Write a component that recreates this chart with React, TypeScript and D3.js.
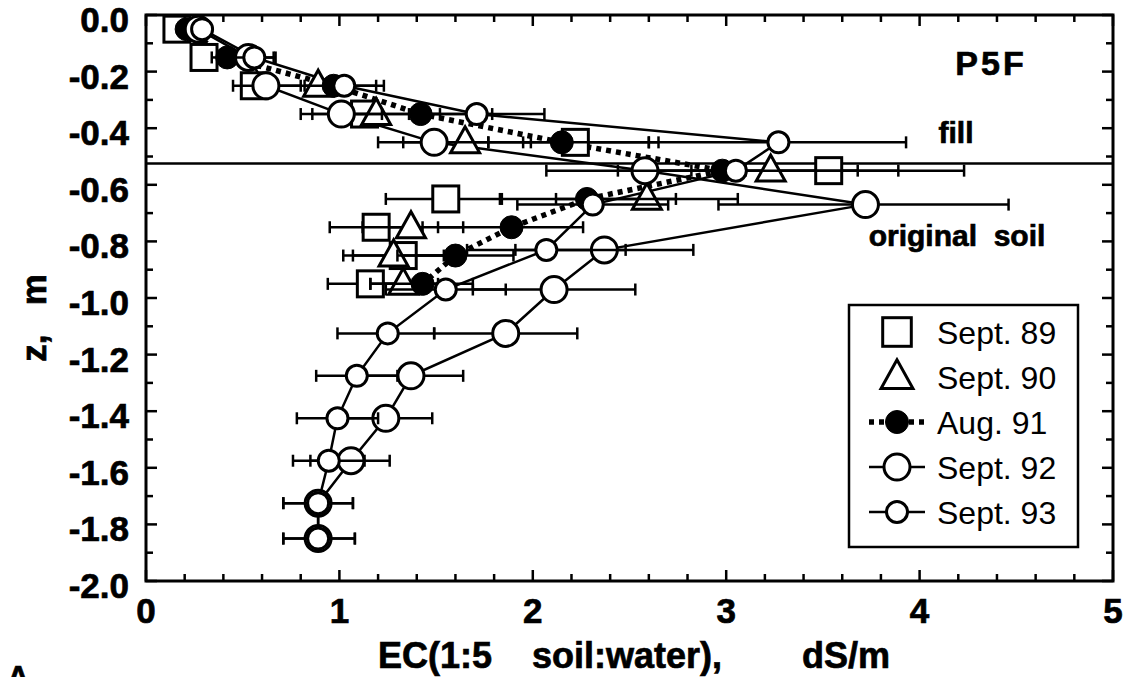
import React from "react";
import * as d3 from "d3";

// Each row: [depth z (m), EC (dS/m), error bar low, error bar high]
type Row = [number, number, number | null, number | null];

const sept89: Row[] = [
  [-0.05, 0.16, null, null],
  [-0.15, 0.3, null, null],
  [-0.25, 0.56, null, null],
  [-0.35, 1.13, null, null],
  [-0.45, 2.22, 1.95, 2.65],
  [-0.55, 3.53, 2.82, 4.23],
  [-0.65, 1.55, 1.24, 1.84],
  [-0.75, 1.19, 0.95, 1.43],
  [-0.85, 1.33, 1.07, 1.58],
  [-0.95, 1.16, 0.94, 1.38],
];

const sept90: Row[] = [
  [-0.25, 0.89, 0.59, 1.19],
  [-0.35, 1.19, 0.86, 1.52],
  [-0.45, 1.65, 1.33, 1.99],
  [-0.55, 3.23, 2.58, 3.89],
  [-0.65, 2.59, 2.12, 3.06],
  [-0.75, 1.37, 1.12, 1.64],
  [-0.85, 1.28, 1.02, 1.54],
  [-0.95, 1.33, 1.16, 1.51],
];

const aug91: Row[] = [
  [-0.05, 0.21, null, null],
  [-0.15, 0.42, 0.34, 0.5],
  [-0.25, 0.97, null, null],
  [-0.35, 1.42, 1.05, 1.79],
  [-0.45, 2.15, 1.77, 2.6],
  [-0.55, 2.98, null, null],
  [-0.65, 2.28, 1.83, 2.74],
  [-0.75, 1.89, 1.51, 2.26],
  [-0.85, 1.6, 1.3, 1.9],
  [-0.95, 1.43, 1.16, 1.69],
];

const sept92: Row[] = [
  [-0.05, 0.27, null, null],
  [-0.15, 0.53, 0.44, 0.66],
  [-0.25, 0.62, 0.45, 0.8],
  [-0.35, 1.01, 0.8, 1.22],
  [-0.45, 1.49, 1.2, 1.77],
  [-0.55, 2.58, 2.07, 3.1],
  [-0.67, 3.72, 2.96, 4.46],
  [-0.83, 2.37, 1.91, 2.83],
  [-0.97, 2.11, 1.69, 2.53],
  [-1.125, 1.86, 1.49, 2.23],
  [-1.275, 1.37, 1.1, 1.64],
  [-1.425, 1.24, 1.0, 1.48],
  [-1.575, 1.06, 0.85, 1.26],
  [-1.725, 0.89, 0.71, 1.07],
  [-1.85, 0.89, 0.71, 1.08],
];

const sept93: Row[] = [
  [-0.05, 0.29, null, null],
  [-0.15, 0.56, 0.43, 0.67],
  [-0.25, 1.025, 0.82, 1.23],
  [-0.35, 1.71, 1.36, 2.06],
  [-0.45, 3.27, 2.6, 3.93],
  [-0.55, 3.05, 2.44, 3.68],
  [-0.67, 2.31, 1.92, 2.7],
  [-0.83, 2.07, 1.66, 2.48],
  [-0.97, 1.55, 1.24, 1.86],
  [-1.125, 1.25, 0.99, 1.49],
  [-1.275, 1.09, 0.88, 1.3],
  [-1.425, 0.99, 0.78, 1.2],
  [-1.575, 0.945, 0.76, 1.13],
  [-1.725, 0.89, 0.71, 1.07],
  [-1.85, 0.89, 0.71, 1.08],
];

const xTickLabels = [0, 1, 2, 3, 4, 5];
const zTickLabels = [0, -0.2, -0.4, -0.6, -0.8, -1.0, -1.2, -1.4, -1.6, -1.8, -2.0];
const legendLabels = ["Sept. 89", "Sept. 90", "Aug. 91", "Sept. 92", "Sept. 93"];
const fillBoundary = -0.525;

const FONT = "'Liberation Sans', Arial, Helvetica, sans-serif";
const W = 1125;
const H = 677;
const P = { left: 146, right: 1113, top: 15, bottom: 581 };

type Marker = "square" | "triangle" | "dot" | "bigCircle" | "circle";

function MarkerShape({ kind, cx, cy, scale = 1 }: { kind: Marker; cx: number; cy: number; scale?: number }) {
  const sw = 3;
  if (kind === "square") {
    const s = 26 * scale;
    return <rect x={cx - s / 2} y={cy - s / 2} width={s} height={s} fill="#fff" stroke="#000" strokeWidth={sw} />;
  }
  if (kind === "triangle") {
    const b = 29 * scale;
    const h = 26 * scale;
    const pts = `${cx},${cy - h * 0.6} ${cx - b / 2},${cy + h * 0.4} ${cx + b / 2},${cy + h * 0.4}`;
    return <polygon points={pts} fill="#fff" stroke="#000" strokeWidth={sw} strokeLinejoin="miter" />;
  }
  if (kind === "dot") {
    return <circle cx={cx} cy={cy} r={11.5 * scale} fill="#000" stroke="#000" strokeWidth={1} />;
  }
  if (kind === "bigCircle") {
    return <circle cx={cx} cy={cy} r={13 * scale} fill="#fff" stroke="#000" strokeWidth={sw} />;
  }
  return <circle cx={cx} cy={cy} r={10.5 * scale} fill="#fff" stroke="#000" strokeWidth={sw} />;
}

export default function App() {
  const x = d3.scaleLinear().domain([0, 5]).range([P.left, P.right]);
  const y = d3.scaleLinear().domain([-2, 0]).range([P.bottom, P.top]);
  const line = d3
    .line<Row>()
    .x((d) => x(d[1]))
    .y((d) => y(d[0]));

  const xMinor = d3.range(0, 5.001, 0.2);
  const yMinor = d3.range(-2, 0.001, 0.1);

  const series: { rows: Row[]; marker: Marker }[] = [
    { rows: sept89, marker: "square" },
    { rows: sept90, marker: "triangle" },
    { rows: aug91, marker: "dot" },
    { rows: sept92, marker: "bigCircle" },
    { rows: sept93, marker: "circle" },
  ];

  const errorBars = (rows: Row[], key: string) =>
    rows
      .filter((r) => r[2] !== null && r[3] !== null)
      .map((r, i) => {
        const yy = y(r[0]);
        const x0 = x(r[2] as number);
        const x1 = x(r[3] as number);
        return (
          <g key={`${key}-e${i}`} stroke="#000" strokeWidth={2.5}>
            <line x1={x0} x2={x1} y1={yy} y2={yy} />
            <line x1={x0} x2={x0} y1={yy - 6} y2={yy + 6} />
            <line x1={x1} x2={x1} y1={yy - 6} y2={yy + 6} />
          </g>
        );
      });

  const legendX = 849;
  const legendY = 305;
  const legendW = 229;
  const legendH = 242;
  const legendMarkers: Marker[] = ["square", "triangle", "dot", "bigCircle", "circle"];
  const legendRowY = (i: number) => legendY + 27 + i * 45;
  const symX = legendX + 48;

  // heavy bold lettering for axis labels and annotations
  const heavy = { fontWeight: "bold" as const, stroke: "#000", strokeWidth: 0.7 };

  return (
    <svg
      width={W}
      height={H}
      style={{ position: "absolute", left: 0, top: 0, background: "#fff" }}
      fontFamily={FONT}
    >
      <rect x={0} y={0} width={W} height={H} fill="#fff" />

      {/* fill / original soil boundary */}
      <line x1={P.left} x2={P.right} y1={y(fillBoundary)} y2={y(fillBoundary)} stroke="#000" strokeWidth={2.5} />

      {/* profile lines */}
      <path d={line(sept92) || ""} fill="none" stroke="#000" strokeWidth={2.5} />
      <path d={line(sept93) || ""} fill="none" stroke="#000" strokeWidth={2.5} />
      <path d={line(aug91) || ""} fill="none" stroke="#000" strokeWidth={5.5} strokeDasharray="5 5" />

      {series.map((s, si) => (
        <g key={si}>
          {errorBars(s.rows, `s${si}`)}
          {s.rows.map((r, i) => (
            <MarkerShape key={i} kind={s.marker} cx={x(r[1])} cy={y(r[0])} />
          ))}
        </g>
      ))}

      {/* frame and inward ticks */}
      <rect
        x={P.left}
        y={P.top}
        width={P.right - P.left}
        height={P.bottom - P.top}
        fill="none"
        stroke="#000"
        strokeWidth={3}
      />
      {xMinor.map((v, i) => {
        const major = Math.abs(v - Math.round(v)) < 1e-6;
        const len = major ? 11 : 7;
        return (
          <g key={`xt${i}`} stroke="#000" strokeWidth={2.5}>
            <line x1={x(v)} x2={x(v)} y1={P.bottom} y2={P.bottom - len} />
            <line x1={x(v)} x2={x(v)} y1={P.top} y2={P.top + len} />
          </g>
        );
      })}
      {yMinor.map((v, i) => {
        const major = Math.abs(v * 5 - Math.round(v * 5)) < 1e-6;
        const len = major ? 11 : 7;
        return (
          <g key={`yt${i}`} stroke="#000" strokeWidth={2.5}>
            <line x1={P.left} x2={P.left + len} y1={y(v)} y2={y(v)} />
            <line x1={P.right} x2={P.right - len} y1={y(v)} y2={y(v)} />
          </g>
        );
      })}

      {/* tick labels */}
      {xTickLabels.map((v) => (
        <text key={`xl${v}`} x={x(v)} y={P.bottom + 42} textAnchor="middle" fontSize={35} {...heavy}>
          {v}
        </text>
      ))}
      {zTickLabels.map((v) => (
        <text key={`yl${v}`} x={P.left - 17} y={y(v) + 17} textAnchor="end" fontSize={35} {...heavy}>
          {v.toFixed(1)}
        </text>
      ))}

      {/* axis titles */}
      <text x={378} y={668} fontSize={36} {...heavy} style={{ whiteSpace: "pre" }}>
        {"EC(1:5    soil:water),        dS/m"}
      </text>
      <text
        transform={`translate(46, 318) rotate(-90)`}
        textAnchor="middle"
        fontSize={35}
        {...heavy}
        style={{ whiteSpace: "pre" }}
      >
        {"z,   m"}
      </text>

      {/* annotations */}
      <text x={991} y={75} textAnchor="middle" fontSize={34} letterSpacing={3} {...heavy}>
        P5F
      </text>
      <text x={956} y={143} textAnchor="middle" fontSize={30} {...heavy}>
        fill
      </text>
      <text x={957} y={246} textAnchor="middle" fontSize={30} {...heavy} style={{ whiteSpace: "pre" }}>
        {"original  soil"}
      </text>
      <text x={7} y={688} fontSize={31} {...heavy}>
        A
      </text>

      {/* legend */}
      <rect x={legendX} y={legendY} width={legendW} height={legendH} fill="#fff" stroke="#000" strokeWidth={2.5} />
      {legendLabels.map((lab, i) => {
        const ly = legendRowY(i);
        const m = legendMarkers[i];
        return (
          <g key={lab}>
            {m === "dot" && (
              <line x1={symX - 28} x2={symX + 28} y1={ly} y2={ly} stroke="#000" strokeWidth={5.5} strokeDasharray="5 5" />
            )}
            {(m === "bigCircle" || m === "circle") && (
              <line x1={symX - 28} x2={symX + 28} y1={ly} y2={ly} stroke="#000" strokeWidth={2.5} />
            )}
            <MarkerShape kind={m} cx={symX} cy={ly} scale={m === "square" || m === "triangle" ? 1.1 : 1} />
            <text x={legendX + 88} y={ly + 12} fontSize={32}>
              {lab}
            </text>
          </g>
        );
      })}
    </svg>
  );
}
